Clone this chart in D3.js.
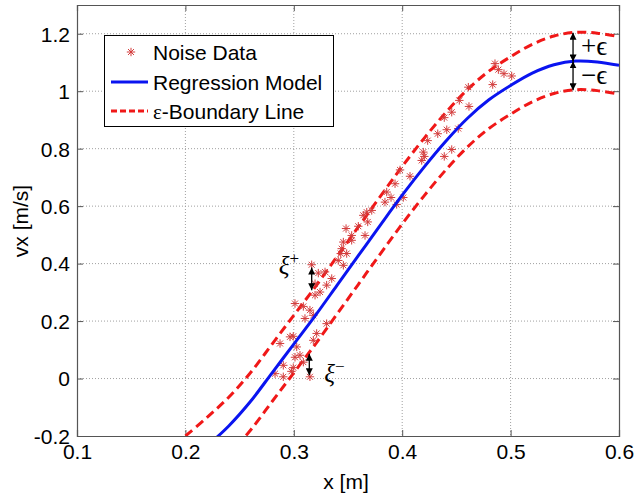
<!DOCTYPE html>
<html>
<head>
<meta charset="utf-8">
<script src="https://cdn.jsdelivr.net/npm/d3@7"></script>
<style>
  html, body { margin: 0; padding: 0; background: #fff; }
  svg { display: block; }
  text { font-family: "Liberation Sans", Arial, Helvetica, sans-serif; fill: #000; }
  .math { font-family: "Liberation Serif", "Times New Roman", serif; }
</style>
</head>
<body>
<svg id="chart" width="634" height="493"></svg>
<script>
// Regression model samples (x in m, vx in m/s)
const modelX = [0.19, 0.20, 0.22, 0.24, 0.26, 0.28, 0.30, 0.32, 0.34, 0.36, 0.38, 0.40,
                0.42, 0.44, 0.46, 0.48, 0.50, 0.52, 0.54, 0.56, 0.58, 0.60];
const modelY = [-0.33, -0.30, -0.235, -0.165, -0.08, 0.02, 0.12, 0.22, 0.325, 0.43, 0.535, 0.638,
                0.735, 0.825, 0.905, 0.97, 1.02, 1.063, 1.092, 1.105, 1.102, 1.09];

// Width of the epsilon-insensitive tube
const epsilon = 0.1;

// Noisy measurements
const noiseX = [
  0.4856, 0.4887, 0.4939, 0.5010, 0.4835, 0.4610, 0.4527, 0.4616, 0.4457, 0.4388,
  0.4411, 0.4328, 0.4517, 0.4235, 0.4195, 0.4204, 0.4388, 0.4457, 0.4180,
  0.3980, 0.4072, 0.3934, 0.3857, 0.3897, 0.3841, 0.4010, 0.3949, 0.3719, 0.3673,
  0.3641, 0.3682, 0.3595, 0.3482, 0.3534, 0.3657, 0.3457, 0.3534, 0.3442, 0.3433,
  0.3488, 0.3410, 0.3457,
  0.3165, 0.3226, 0.3288, 0.3350, 0.3303, 0.3196, 0.3242, 0.3196, 0.3011, 0.3088,
  0.3149, 0.3103, 0.3180, 0.3303, 0.3211, 0.2965, 0.2995, 0.2873, 0.3180, 0.3027,
  0.3057, 0.3011, 0.2903, 0.2995, 0.3088, 0.2827, 0.2903, 0.2978, 0.3149
];
const noiseY = [
  1.096, 1.075, 1.061, 1.053, 1.023, 1.014, 0.968, 0.947, 0.927, 0.908,
  0.866, 0.852, 0.870, 0.828, 0.788, 0.773, 0.773, 0.797, 0.759,
  0.726, 0.704, 0.678, 0.649, 0.630, 0.614, 0.630, 0.606, 0.585, 0.579,
  0.568, 0.545, 0.530, 0.522, 0.498, 0.498, 0.475, 0.481, 0.452, 0.435,
  0.435, 0.411, 0.394,
  0.396, 0.367, 0.371, 0.348, 0.325, 0.330, 0.301, 0.290, 0.261, 0.251,
  0.238, 0.209, 0.220, 0.191, 0.157, 0.145, 0.147, 0.122, 0.133, 0.110,
  0.081, 0.074, 0.046, 0.038, 0.057, 0.017, 0.006, 0.025, 0.006
];

// Axis ticks
const xTicks = [0.1, 0.2, 0.3, 0.4, 0.5, 0.6];
const yTicks = [-0.2, 0, 0.2, 0.4, 0.6, 0.8, 1, 1.2];
const xTickLabels = ["0.1", "0.2", "0.3", "0.4", "0.5", "0.6"];
const yTickLabels = ["-0.2", "0", "0.2", "0.4", "0.6", "0.8", "1", "1.2"];

// Slack-variable annotations: x position and the measured value
const slackX = [0.3165, 0.3143];
const slackY = [0.396, 0.006];
const slackNames = ["+", "\u2212"];
// Tube-width annotation position
const tubeX = 0.5576;

const legendLabels = ["Noise Data", "Regression Model", "-Boundary Line"];

// ---------------------------------------------------------------
const svg = d3.select("#chart");
const pL = 77, pR = 619, pT = 5, pB = 436;
const fontSize = 21;

const x = d3.scaleLinear().domain([0.1, 0.6]).range([pL, pR]);
const y = d3.scaleLinear().domain([-0.2, 1.3]).range([pB, pT]);

const model = modelX.map((d, i) => ({ x: d, y: modelY[i] }));
const modelAt = xv => {
  const i = d3.bisector(d => d.x).right(model, xv) - 1;
  const a = model[Math.max(0, i)], b = model[Math.min(model.length - 1, i + 1)];
  const t = b.x === a.x ? 0 : (xv - a.x) / (b.x - a.x);
  return a.y + t * (b.y - a.y);
};

const defs = svg.append("defs");
defs.append("clipPath").attr("id", "plotClip")
  .append("rect").attr("x", pL).attr("y", pT)
  .attr("width", pR - pL).attr("height", pB - pT);
defs.append("marker").attr("id", "head")
  .attr("viewBox", "0 0 10 10").attr("refX", 10).attr("refY", 5)
  .attr("markerWidth", 7).attr("markerHeight", 7)
  .attr("markerUnits", "userSpaceOnUse")
  .attr("orient", "auto-start-reverse")
  .append("path").attr("d", "M0,0 L10,5 L0,10 Z").attr("fill", "#000");

// Grid
const grid = svg.append("g");
grid.selectAll(".gx").data(xTicks.slice(1, -1)).join("line")
  .attr("x1", d => x(d)).attr("x2", d => x(d))
  .attr("y1", pT).attr("y2", pB)
  .attr("stroke", "#a0a0a0").attr("stroke-width", 1).attr("stroke-dasharray", "1,2");
grid.selectAll(".gy").data(yTicks.slice(1)).join("line")
  .attr("y1", d => y(d)).attr("y2", d => y(d))
  .attr("x1", pL).attr("x2", pR)
  .attr("stroke", "#a0a0a0").attr("stroke-width", 1).attr("stroke-dasharray", "1,2");

// Axes with inward ticks on all four sides
const axisColor = "#555";
const xb = svg.append("g").attr("transform", `translate(0,${pB})`)
  .call(d3.axisBottom(x).tickValues(xTicks).tickSize(-6).tickFormat((d, i) => xTickLabels[i]));
const xt = svg.append("g").attr("transform", `translate(0,${pT})`)
  .call(d3.axisTop(x).tickValues(xTicks).tickSize(-6).tickFormat(""));
const yl = svg.append("g").attr("transform", `translate(${pL},0)`)
  .call(d3.axisLeft(y).tickValues(yTicks).tickSize(-6).tickFormat((d, i) => yTickLabels[i]));
const yr = svg.append("g").attr("transform", `translate(${pR},0)`)
  .call(d3.axisRight(y).tickValues(yTicks).tickSize(-6).tickFormat(""));
[xb, xt, yl, yr].forEach(g => {
  g.select(".domain").attr("stroke", axisColor).attr("stroke-width", 1.2);
  g.selectAll(".tick line").attr("stroke", axisColor).attr("stroke-width", 1);
  g.selectAll("text").attr("font-size", fontSize)
    .attr("font-family", "Liberation Sans, Arial, sans-serif").attr("fill", "#000");
});
xb.selectAll("text").attr("y", 8).attr("dy", "0.71em");
yl.selectAll("text").attr("x", -7).attr("dy", "0.35em");

// Axis titles
svg.append("text").attr("x", 346).attr("y", 489).attr("text-anchor", "middle")
  .attr("font-size", fontSize).text("x [m]");
svg.append("text").attr("transform", "translate(28,221) rotate(-90)")
  .attr("text-anchor", "middle").attr("font-size", fontSize).text("vx [m/s]");

// Curves
const plot = svg.append("g").attr("clip-path", "url(#plotClip)");
const line = d3.line().x(d => x(d.x)).y(d => y(d.y)).curve(d3.curveCatmullRom);
const upper = model.map(d => ({ x: d.x, y: d.y + epsilon }));
const lower = model.map(d => ({ x: d.x, y: d.y - epsilon }));

plot.append("path").datum(upper).attr("d", line)
  .attr("fill", "none").attr("stroke", "#f01818").attr("stroke-width", 3)
  .attr("stroke-dasharray", "9,5");
plot.append("path").datum(lower).attr("d", line)
  .attr("fill", "none").attr("stroke", "#f01818").attr("stroke-width", 3)
  .attr("stroke-dasharray", "9,5");

// Asterisk marker
const asterisk = (r) => {
  const k = r * Math.SQRT1_2;
  return `M${-r},0L${r},0M0,${-r}L0,${r}M${-k},${-k}L${k},${k}M${-k},${k}L${k},${-k}`;
};
const pts = noiseX.map((d, i) => ({ x: d, y: noiseY[i] }));
plot.selectAll(".pt").data(pts).join("path")
  .attr("transform", d => `translate(${x(d.x)},${y(d.y)})`)
  .attr("d", asterisk(4.2))
  .attr("fill", "none").attr("stroke", "#d33c3c").attr("stroke-width", 1);

plot.append("path").datum(model).attr("d", line)
  .attr("fill", "none").attr("stroke", "#0a14f0").attr("stroke-width", 3);

// Slack arrows (xi+ above the tube, xi- below it)
const arrow = (xv, y1, y2) => svg.append("line")
  .attr("x1", x(xv)).attr("x2", x(xv)).attr("y1", y(y1)).attr("y2", y(y2))
  .attr("stroke", "#000").attr("stroke-width", 1.3)
  .attr("marker-start", "url(#head)").attr("marker-end", "url(#head)");

arrow(slackX[0], slackY[0] - 0.01, modelAt(slackX[0]) + epsilon + 0.005);
arrow(slackX[1], modelAt(slackX[1]) - epsilon - 0.005, slackY[1] + 0.005);

const xiPlus = svg.append("text").attr("class", "math").attr("font-size", 25)
  .attr("x", x(slackX[0]) - 33).attr("y", y(slackY[0]) + 9);
xiPlus.append("tspan").attr("font-style", "italic").text("\u03BE");
xiPlus.append("tspan").attr("font-size", 17).attr("dy", -10).text(slackNames[0]);

const xiMinus = svg.append("text").attr("class", "math").attr("font-size", 25)
  .attr("x", x(slackX[1]) + 15).attr("y", y(slackY[1]) + 5);
xiMinus.append("tspan").attr("font-style", "italic").text("\u03BE");
xiMinus.append("tspan").attr("font-size", 17).attr("dy", -10).text(slackNames[1]);

// Tube-width arrows at the model peak
const peak = modelAt(tubeX);
arrow(tubeX, peak + epsilon, peak);
arrow(tubeX, peak, peak - epsilon);
svg.append("text").attr("class", "math").attr("font-size", 27)
  .attr("x", x(tubeX) + 8).attr("y", y(peak + epsilon / 2) + 8).text("+\u03F5");
svg.append("text").attr("class", "math").attr("font-size", 27)
  .attr("x", x(tubeX) + 8).attr("y", y(peak - epsilon / 2) + 8).text("\u2212\u03F5");

// Legend
const lg = svg.append("g");
lg.append("rect").attr("x", 104.5).attr("y", 35.5).attr("width", 229).attr("height", 91)
  .attr("fill", "#fff").attr("stroke", "#000").attr("stroke-width", 1);
const rows = [52, 82, 111];
lg.append("path").attr("transform", `translate(131,${rows[0]})`).attr("d", asterisk(4.2))
  .attr("fill", "none").attr("stroke", "#d33c3c").attr("stroke-width", 1);
lg.append("line").attr("x1", 111).attr("x2", 148).attr("y1", rows[1]).attr("y2", rows[1])
  .attr("stroke", "#0a14f0").attr("stroke-width", 3);
lg.append("line").attr("x1", 111).attr("x2", 148).attr("y1", rows[2]).attr("y2", rows[2])
  .attr("stroke", "#f01818").attr("stroke-width", 3).attr("stroke-dasharray", "6,3");
lg.append("text").attr("x", 153).attr("y", rows[0] + 7.5).attr("font-size", fontSize).text(legendLabels[0]);
lg.append("text").attr("x", 153).attr("y", rows[1] + 7.5).attr("font-size", fontSize).text(legendLabels[1]);
const t3 = lg.append("text").attr("x", 153).attr("y", rows[2] + 7.5).attr("font-size", fontSize);
t3.append("tspan").attr("class", "math").attr("font-family", "Liberation Serif, serif").text("\u03B5");
t3.append("tspan").text(legendLabels[2]);
</script>
</body>
</html>
